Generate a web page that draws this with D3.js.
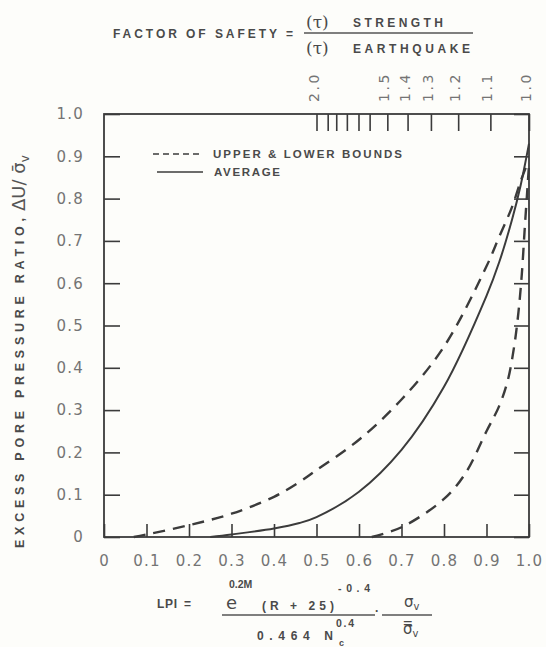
<!DOCTYPE html>
<html>
<head>
<meta charset="utf-8">
<script src="https://cdn.jsdelivr.net/npm/d3@7"></script>
<style>
  body { margin: 0; background: #fdfdfa; }
  svg { display: block; }
</style>
</head>
<body>
<svg width="546" height="647"></svg>
<script>
// Values: LPI on x, excess pore pressure ratio on y
var upperLpi   = [0.07, 0.10, 0.20, 0.30, 0.40, 0.46, 0.50, 0.60, 0.70, 0.80, 0.90, 0.93, 0.96, 0.98, 0.995];
var upperRatio = [0.00, 0.006, 0.028, 0.055, 0.095, 0.13, 0.158, 0.23, 0.325, 0.45, 0.64, 0.71, 0.78, 0.84, 0.88];

var averageLpi   = [0.25, 0.30, 0.40, 0.46, 0.50, 0.60, 0.70, 0.80, 0.90, 0.93, 0.96, 0.98, 1.00];
var averageRatio = [0.00, 0.006, 0.02, 0.033, 0.047, 0.107, 0.206, 0.355, 0.57, 0.65, 0.75, 0.83, 0.93];

var lowerLpi   = [0.63, 0.70, 0.80, 0.85, 0.90, 0.93, 0.95, 0.965, 0.975, 0.983, 0.99, 0.996, 1.00];
var lowerRatio = [0.00, 0.023, 0.09, 0.15, 0.25, 0.31, 0.37, 0.45, 0.53, 0.62, 0.73, 0.82, 0.88];

// Axis ticks
var xTicks = [0, 0.1, 0.2, 0.3, 0.4, 0.5, 0.6, 0.7, 0.8, 0.9, 1.0];
var yTicks = [0, 0.1, 0.2, 0.3, 0.4, 0.5, 0.6, 0.7, 0.8, 0.9, 1.0];

// Factor of safety scale on top (FS = 1 / LPI)
var fsTicks  = [2.0, 1.9, 1.83, 1.75, 1.67, 1.6, 1.5, 1.4, 1.3, 1.2, 1.1, 1.0];
var fsLabels = [2.0, 1.5, 1.4, 1.3, 1.2, 1.1, 1.0];

var svg = d3.select("svg");
var ink = "#3b3b3b", grey = "#747474";

var x = d3.scaleLinear().domain([0, 1]).range([104, 529]);
var y = d3.scaleLinear().domain([0, 1]).range([537, 114]);

function fmt(d) { return d === 0 ? "0" : d.toFixed(1); }

//////////////////////////////
// Axes - all ticks point inward
var bottomAxis = svg.append("g")
    .attr("transform", "translate(0,537)")
    .call(d3.axisBottom(x).tickValues(xTicks).tickSize(-13).tickSizeOuter(0)
        .tickPadding(18).tickFormat(fmt));

var leftAxis = svg.append("g")
    .attr("transform", "translate(104,0)")
    .call(d3.axisLeft(y).tickValues(yTicks).tickSize(-16).tickSizeOuter(0)
        .tickPadding(20).tickFormat(fmt));

var rightAxis = svg.append("g")
    .attr("transform", "translate(529,0)")
    .call(d3.axisRight(y).tickValues(yTicks).tickSize(-15).tickSizeOuter(0)
        .tickFormat(""));

var topAxis = svg.append("g")
    .attr("transform", "translate(0,114)")
    .call(d3.axisTop(x).tickValues(fsTicks.map(function(f) { return 1 / f; }))
        .tickSize(-17).tickSizeOuter(0).tickFormat(""));

[bottomAxis, leftAxis, rightAxis, topAxis].forEach(function(g) {
    g.select(".domain").remove();
    g.selectAll(".tick line").attr("stroke", ink).attr("stroke-width", 1.6);
    g.selectAll(".tick text")
        .attr("fill", grey)
        .style("font-family", "DejaVu Sans")
        .style("font-size", "15px")
        .style("letter-spacing", "1.2px");
});

// Frame
svg.append("rect")
    .attr("x", x(0)).attr("y", y(1))
    .attr("width", x(1) - x(0)).attr("height", y(0) - y(1))
    .attr("fill", "none").attr("stroke", ink).attr("stroke-width", 1.8);

// Rotated FS labels above the frame
svg.append("g").selectAll("text")
    .data(fsLabels)
    .enter().append("text")
    .attr("transform", function(d) { return "translate(" + (x(1 / d) - 3) + ",87) rotate(-90)"; })
    .attr("text-anchor", "middle")
    .attr("dominant-baseline", "central")
    .attr("fill", grey)
    .style("font-family", "DejaVu Sans")
    .style("font-size", "14px")
    .style("letter-spacing", "2.5px")
    .text(function(d) { return d.toFixed(1); });

//////////////////////////////
// Curves
var line = d3.line()
    .x(function(d) { return x(d[0]); })
    .y(function(d) { return y(d[1]); })
    .curve(d3.curveCatmullRom.alpha(0.5));

function pairs(a, b) { return a.map(function(v, i) { return [v, b[i]]; }); }

svg.append("path")
    .attr("d", line(pairs(upperLpi, upperRatio)))
    .attr("fill", "none").attr("stroke", ink).attr("stroke-width", 2.4)
    .attr("stroke-dasharray", "12,8");

svg.append("path")
    .attr("d", line(pairs(lowerLpi, lowerRatio)))
    .attr("fill", "none").attr("stroke", ink).attr("stroke-width", 2.4)
    .attr("stroke-dasharray", "12,8");

svg.append("path")
    .attr("d", line(pairs(averageLpi, averageRatio)))
    .attr("fill", "none").attr("stroke", ink).attr("stroke-width", 2);

//////////////////////////////
// Legend
svg.append("line").attr("x1", 153).attr("x2", 203).attr("y1", 154).attr("y2", 154)
    .attr("stroke", ink).attr("stroke-width", 1.6).attr("stroke-dasharray", "6,4");
svg.append("line").attr("x1", 157).attr("x2", 203).attr("y1", 172).attr("y2", 172)
    .attr("stroke", ink).attr("stroke-width", 1.6);

function label(tx, ty, str, size, len) {
    var t = svg.append("text")
        .attr("x", tx).attr("y", ty)
        .attr("fill", "#4a4a4a")
        .style("font-family", "Liberation Sans, Arial, sans-serif")
        .style("font-weight", "bold")
        .style("font-size", size + "px")
        .text(str);
    if (len) t.attr("textLength", len).attr("lengthAdjust", "spacing");
    return t;
}

label(213, 158, "UPPER & LOWER BOUNDS", 11.5, 189);
label(214, 176, "AVERAGE", 11.5, 66);

//////////////////////////////
// Title: factor of safety definition
label(113, 38, "FACTOR OF SAFETY =", 12, 180);
svg.append("line").attr("x1", 304).attr("x2", 473).attr("y1", 33).attr("y2", 33)
    .attr("stroke", "#555").attr("stroke-width", 1.4);
svg.append("text").attr("x", 306).attr("y", 28).attr("fill", "#4a4a4a")
    .style("font-family", "DejaVu Serif").style("font-size", "17px").text("(τ)");
label(353, 27, "STRENGTH", 12, 90);
svg.append("text").attr("x", 306).attr("y", 54).attr("fill", "#4a4a4a")
    .style("font-family", "DejaVu Serif").style("font-size", "17px").text("(τ)");
label(353, 53, "EARTHQUAKE", 12, 117);

//////////////////////////////
// Y axis title
var yTitle = svg.append("g").attr("transform", "translate(24,548) rotate(-90)");
yTitle.append("text")
    .attr("x", 0).attr("y", 0)
    .attr("fill", "#4a4a4a")
    .style("font-family", "Liberation Sans, Arial, sans-serif")
    .style("font-weight", "bold").style("font-size", "12.5px")
    .attr("textLength", 330).attr("lengthAdjust", "spacing")
    .text("EXCESS PORE PRESSURE RATIO,");
var yMath = yTitle.append("text")
    .attr("x", 337).attr("y", 1)
    .attr("fill", "#555")
    .style("font-family", "DejaVu Sans").style("font-size", "18px");
yMath.append("tspan").text("ΔU/ σ̄");
yMath.append("tspan").attr("dy", 4).style("font-size", "12px").text("v");

//////////////////////////////
// LPI formula under the x axis
label(157, 608, "LPI", 12, 20);
label(184, 608, "=", 12);
svg.append("text").attr("x", 226).attr("y", 609).attr("fill", "#4a4a4a")
    .style("font-family", "DejaVu Sans").style("font-size", "18px").text("e");
label(229, 588, "0.2M", 10.5);
label(262, 610, "(R + 25)", 12, 72);
label(338, 592, "-0.4", 10.5, 32);
svg.append("line").attr("x1", 222).attr("x2", 375).attr("y1", 615).attr("y2", 615)
    .attr("stroke", "#555").attr("stroke-width", 1.4);
label(257, 640, "0.464 N", 12, 76);
label(336, 627, "0.4", 10.5, 18);
label(339, 646, "c", 9);
label(375, 615, "·", 12);
svg.append("line").attr("x1", 382).attr("x2", 432).attr("y1", 615).attr("y2", 615)
    .attr("stroke", "#555").attr("stroke-width", 1.4);
var num = svg.append("text").attr("x", 404).attr("y", 607).attr("fill", "#4a4a4a")
    .style("font-family", "DejaVu Sans").style("font-size", "15px");
num.append("tspan").text("σ");
num.append("tspan").attr("dy", 3).style("font-size", "10px").text("v");
var den = svg.append("text").attr("x", 403).attr("y", 634).attr("fill", "#4a4a4a")
    .style("font-family", "DejaVu Sans").style("font-size", "15px");
den.append("tspan").text("σ̿");
den.append("tspan").attr("dy", 3).style("font-size", "10px").text("v");
</script>
</body>
</html>
